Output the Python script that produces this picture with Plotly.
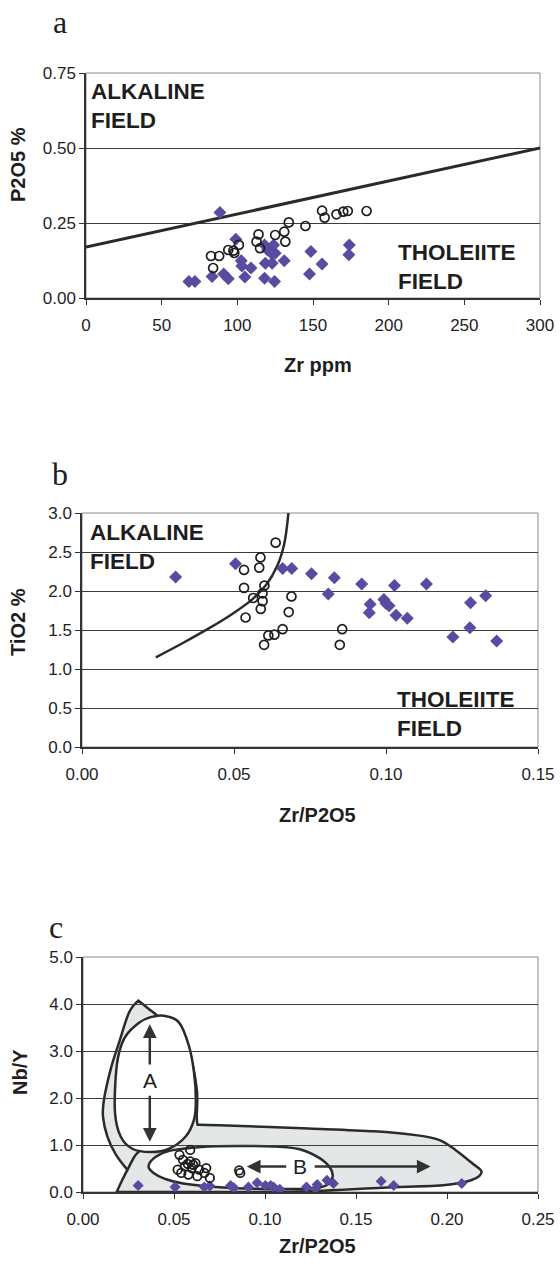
import plotly.graph_objects as go

# ---------------- Panel a : P2O5 vs Zr ----------------
a_dia_zr = [88.5, 99, 68, 72, 83.3, 91, 94, 102.6, 103, 105, 109, 118, 118.5, 118, 120, 122,
            124, 125, 123, 123, 124.6, 131, 148.6, 147.7, 156, 174, 173.7]
a_dia_p2o5 = [0.285, 0.196, 0.055, 0.055, 0.072, 0.08, 0.064, 0.124, 0.107, 0.07, 0.10, 0.066,
              0.116, 0.177, 0.16, 0.166, 0.177, 0.149, 0.147, 0.116, 0.055, 0.124, 0.155, 0.08,
              0.113, 0.177, 0.144]
a_cir_zr = [82.6, 88, 84, 94, 97.4, 98, 101, 112.7, 114, 115, 125, 131, 131.7, 134, 145, 156,
            157.7, 165.5, 170, 173, 185.4]
a_cir_p2o5 = [0.14, 0.14, 0.10, 0.16, 0.158, 0.15, 0.177, 0.188, 0.212, 0.166, 0.21, 0.221,
              0.188, 0.252, 0.24, 0.291, 0.268, 0.279, 0.288, 0.29, 0.29]
a_line_zr = [0, 300]
a_line_p2o5 = [0.17, 0.50]

# ---------------- Panel b : TiO2 vs Zr/P2O5 ----------------
b_dia_x = [0.0308, 0.0505, 0.066, 0.069, 0.0755, 0.083, 0.081, 0.092, 0.0948, 0.0945, 0.0993,
           0.100, 0.101, 0.1028, 0.1033, 0.107, 0.1133, 0.122, 0.1276, 0.1278, 0.1328, 0.1364]
b_dia_y = [2.18, 2.35, 2.29, 2.29, 2.22, 2.17, 1.96, 2.09, 1.83, 1.72, 1.89, 1.84, 1.81, 2.07,
           1.69, 1.65, 2.09, 1.41, 1.53, 1.85, 1.94, 1.36]
b_cir_x = [0.0637, 0.0587, 0.0533, 0.0583, 0.0533, 0.0563, 0.060, 0.0594, 0.0594, 0.0588,
           0.0538, 0.0689, 0.068, 0.066, 0.0633, 0.0613, 0.0599, 0.0856, 0.0848]
b_cir_y = [2.62, 2.43, 2.27, 2.30, 2.04, 1.91, 2.07, 1.97, 1.87, 1.77, 1.66, 1.93, 1.73, 1.51,
           1.44, 1.43, 1.31, 1.51, 1.31]
b_curve_x = [0.0243, 0.0335, 0.0417, 0.0488, 0.0559, 0.0606, 0.0642, 0.0665, 0.0679]
b_curve_y = [1.15, 1.34, 1.52, 1.69, 1.89, 2.08, 2.32, 2.60, 3.0]

# ---------------- Panel c : Nb/Y vs Zr/P2O5 ----------------
c_dia_x = [0.0303, 0.0506, 0.0667, 0.0697, 0.0811, 0.0829, 0.0909, 0.0957, 0.1002, 0.1031,
           0.1047, 0.1081, 0.1228, 0.1278, 0.1287, 0.134, 0.1376, 0.1638, 0.1707, 0.2081]
c_dia_y = [0.14, 0.105, 0.105, 0.126, 0.14, 0.09, 0.105, 0.196, 0.14, 0.14, 0.105, 0.056,
           0.105, 0.07, 0.16, 0.25, 0.18, 0.23, 0.14, 0.18]
c_cir_x = [0.053, 0.0589, 0.0549, 0.052, 0.054, 0.0579, 0.0628, 0.0697, 0.0677, 0.0667,
           0.0559, 0.0598, 0.0638, 0.0618, 0.0589, 0.0864, 0.0858, 0.0605, 0.0575]
c_cir_y = [0.79, 0.895, 0.685, 0.475, 0.405, 0.37, 0.336, 0.30, 0.51, 0.405, 0.545, 0.51,
           0.475, 0.615, 0.65, 0.405, 0.46, 0.58, 0.60]

# field outlines (panel c)
c_outer_x = [0.0185, 0.0215, 0.0244, 0.018, 0.0134, 0.011, 0.0115, 0.0152, 0.0198, 0.0253,
             0.0304, 0.036, 0.041, 0.050, 0.058, 0.0625, 0.0625, 0.063, 0.075, 0.124, 0.16,
             0.1828, 0.1956, 0.2048, 0.2139, 0.219, 0.2139, 0.1993, 0.1645, 0.1187, 0.07]
c_outer_y = [0.0, 0.25, 0.47, 0.80, 1.18, 1.6, 1.96, 2.61, 3.18, 3.82, 4.07, 3.9, 3.75, 3.5,
             3.0, 2.2, 1.6, 1.43, 1.42, 1.35, 1.29, 1.21, 1.11, 0.89, 0.61, 0.43, 0.26, 0.15,
             0.09, 0.01, 0.0]
c_outer_corner = [0, 2, 10, 17]
c_ellA_x = [0.0445, 0.0527, 0.0582, 0.061, 0.062, 0.061, 0.0564, 0.0473, 0.0372, 0.0271,
            0.0207, 0.0176, 0.018, 0.0198, 0.0235, 0.0308, 0.0372]
c_ellA_y = [3.75, 3.61, 3.11, 2.54, 1.96, 1.54, 1.18, 0.92, 0.85, 0.92, 1.18, 1.68, 2.46,
            2.96, 3.32, 3.6, 3.72]
c_ellB_x = [0.036, 0.040, 0.048, 0.065, 0.085, 0.105, 0.119, 0.130, 0.136, 0.137, 0.133,
            0.122, 0.095, 0.075, 0.055, 0.045, 0.039]
c_ellB_y = [0.55, 0.75, 0.88, 0.96, 0.98, 0.97, 0.91, 0.72, 0.50, 0.30, 0.13, 0.07, 0.07,
            0.10, 0.18, 0.28, 0.40]
c_inner_x = [0.0244, 0.0283, 0.031]
c_inner_y = [0.47, 0.755, 0.87]

W, H = 560, 1264
FONT = "Liberation Sans, Arial, sans-serif"
DIA = "#584ca0"
INK = "#1e1e1e"


def px(x):
    return x / W


def py(y):
    return 1 - y / H


def smooth_path(xs, ys, closed=True, corners=()):
    n = len(xs)
    pts = list(zip(xs, ys))
    tang = []
    for i in range(n):
        if i in corners:
            tang.append((0.0, 0.0))
            continue
        if closed:
            p0, p2 = pts[(i - 1) % n], pts[(i + 1) % n]
        else:
            p0, p2 = pts[max(i - 1, 0)], pts[min(i + 1, n - 1)]
        tang.append(((p2[0] - p0[0]) / 2, (p2[1] - p0[1]) / 2))
    d = f"M {pts[0][0]},{pts[0][1]}"
    segs = n if closed else n - 1
    for i in range(segs):
        j = (i + 1) % n
        c1 = (pts[i][0] + tang[i][0] / 3, pts[i][1] + tang[i][1] / 3)
        c2 = (pts[j][0] - tang[j][0] / 3, pts[j][1] - tang[j][1] / 3)
        d += f" C {c1[0]},{c1[1]} {c2[0]},{c2[1]} {pts[j][0]},{pts[j][1]}"
    if closed:
        d += " Z"
    return d


fig = go.Figure()

dia_a = dict(symbol="diamond", size=10, color=DIA, line=dict(width=0))
cir_a = dict(symbol="circle-open", size=9, color=INK, line=dict(width=1.7))

# panel a
fig.add_trace(go.Scatter(x=a_line_zr, y=a_line_p2o5, mode="lines",
                         line=dict(color="#2a2a2a", width=3), xaxis="x", yaxis="y"))
fig.add_trace(go.Scatter(x=a_dia_zr, y=a_dia_p2o5, mode="markers", marker=dia_a,
                         xaxis="x", yaxis="y"))
fig.add_trace(go.Scatter(x=a_cir_zr, y=a_cir_p2o5, mode="markers", marker=cir_a,
                         xaxis="x", yaxis="y"))

# panel b
fig.add_trace(go.Scatter(x=b_curve_x, y=b_curve_y, mode="lines",
                         line=dict(color="#2a2a2a", width=2.5, shape="spline"),
                         xaxis="x2", yaxis="y2"))
fig.add_trace(go.Scatter(x=b_dia_x, y=b_dia_y, mode="markers", marker=dia_a,
                         xaxis="x2", yaxis="y2"))
fig.add_trace(go.Scatter(x=b_cir_x, y=b_cir_y, mode="markers", marker=cir_a,
                         xaxis="x2", yaxis="y2"))

# panel c
fig.add_trace(go.Scatter(x=c_dia_x, y=c_dia_y, mode="markers",
                         marker=dict(symbol="diamond", size=8.5, color=DIA, line=dict(width=0)),
                         xaxis="x3", yaxis="y3"))
fig.add_trace(go.Scatter(x=c_cir_x, y=c_cir_y, mode="markers",
                         marker=dict(symbol="circle-open", size=8.5, color=INK, line=dict(width=1.8)),
                         xaxis="x3", yaxis="y3"))

shapes = []
outline = dict(color="#2b2b2b", width=2.5)
shapes.append(dict(type="path", xref="x3", yref="y3", layer="below",
                   path=smooth_path(c_outer_x, c_outer_y, True, c_outer_corner),
                   fillcolor="#e3e7e7", line=outline))
shapes.append(dict(type="path", xref="x3", yref="y3", layer="below",
                   path=smooth_path(c_ellA_x, c_ellA_y, True), fillcolor="white", line=outline))
shapes.append(dict(type="path", xref="x3", yref="y3", layer="below",
                   path=smooth_path(c_ellB_x, c_ellB_y, True), fillcolor="white", line=outline))
shapes.append(dict(type="path", xref="x3", yref="y3", layer="below",
                   path=smooth_path(c_inner_x, c_inner_y, False), line=outline))

# light frame (top/right borders)
for xa, ya in [("x", "y"), ("x2", "y2"), ("x3", "y3")]:
    shapes.append(dict(type="rect", xref=f"{xa} domain", yref=f"{ya} domain",
                       x0=0, x1=1, y0=0, y1=1, line=dict(color="#8a8a8a", width=1),
                       layer="below"))

tickfont = dict(family=FONT, size=17, color=INK)


def xax(dom, rng, dtick, fmt, anchor):
    return dict(domain=dom, range=rng, dtick=dtick, tick0=0, tickformat=fmt,
                showgrid=False, zeroline=False, showline=True, linecolor="#333",
                linewidth=1.5, ticks="outside", ticklen=5, tickcolor="#333",
                tickfont=tickfont, ticklabelstandoff=6, fixedrange=True,
                automargin=False, anchor=anchor)


def yax(dom, rng, dtick, fmt, anchor):
    return dict(domain=dom, range=rng, dtick=dtick, tick0=0, tickformat=fmt,
                showgrid=True, gridcolor="#3c3c3c", gridwidth=1, zeroline=False,
                showline=True, linecolor="#333", linewidth=1.5, ticks="outside",
                ticklen=5, tickcolor="#333", tickfont=tickfont, anchor=anchor,
                fixedrange=True, automargin=False)


layout = dict(
    width=W, height=H, autosize=False,
    margin=dict(l=0, r=0, t=0, b=0, autoexpand=False),
    paper_bgcolor="white", plot_bgcolor="white",
    showlegend=False,
    font=dict(family=FONT, color=INK),
    xaxis=xax([px(86), px(540)], [0, 300], 50, "d", "y"),
    yaxis=yax([py(298), py(73)], [0, 0.75], 0.25, ".2f", "x"),
    xaxis2=xax([px(82), px(538)], [0, 0.15], 0.05, ".2f", "y2"),
    yaxis2=yax([py(747), py(513)], [0, 3.0], 0.5, ".1f", "x2"),
    xaxis3=xax([px(83), px(538)], [0, 0.25], 0.05, ".2f", "y3"),
    yaxis3=yax([py(1192), py(957)], [0, 5.0], 1.0, ".1f", "x3"),
    shapes=shapes,
)
fig.update_layout(**layout)

ann = []
bold = dict(family=FONT, size=20, color=INK, weight="bold")
field = dict(family=FONT, size=22.5, color=INK, weight="bold")
letter = dict(family="Liberation Serif, DejaVu Serif, serif", size=32, color=INK)

# panel letters
for t, x, y in [("a", 60, 22), ("b", 60, 474), ("c", 56, 927)]:
    ann.append(dict(text=t, x=px(x), y=py(y), xref="paper", yref="paper",
                    showarrow=False, font=letter, xanchor="center", yanchor="middle"))
# axis titles
for t, x, y, ang in [("P2O5 %", 18, 165, -90), ("Zr ppm", 318, 365, 0),
                     ("TiO2 %", 18, 622, -90), ("Zr/P2O5", 317, 815, 0),
                     ("Nb/Y", 20, 1072, -90), ("Zr/P2O5", 317, 1246, 0)]:
    ann.append(dict(text=t, x=px(x), y=py(y), xref="paper", yref="paper", textangle=ang,
                    showarrow=False, font=bold, xanchor="center", yanchor="middle"))
# field labels
for t, x, y, xr, yr in [("ALKALINE<br>FIELD", 2, 0.64, "x", "y"),
                        ("THOLEIITE<br>FIELD", 205, 0.105, "x", "y"),
                        ("ALKALINE<br>FIELD", 0.002, 2.56, "x2", "y2"),
                        ("THOLEIITE<br>FIELD", 0.103, 0.42, "x2", "y2")]:
    ann.append(dict(text=t, x=x, y=y, xref=xr, yref=yr, showarrow=False, font=field,
                    xanchor="left", yanchor="middle", align="left"))
# arrows in panel c
arr = dict(xref="x3", yref="y3", axref="x3", ayref="y3", text="", showarrow=True,
           arrowhead=2, arrowsize=1.1, arrowwidth=2.5, arrowcolor="#333")
ann.append(dict(arr, x=0.0367, y=3.57, ax=0.0367, ay=2.68))
ann.append(dict(arr, x=0.0367, y=1.07, ax=0.0367, ay=2.08))
ann.append(dict(arr, x=0.090, y=0.54, ax=0.1125, ay=0.54))
ann.append(dict(arr, x=0.191, y=0.54, ax=0.1265, ay=0.54))
ann.append(dict(text="A", x=0.0367, y=2.38, xref="x3", yref="y3", showarrow=False,
                font=dict(family=FONT, size=21, color=INK)))
ann.append(dict(text="B", x=0.1195, y=0.54, xref="x3", yref="y3", showarrow=False,
                font=dict(family=FONT, size=21, color=INK)))
fig.update_layout(annotations=ann)

fig.write_html("out.html")
